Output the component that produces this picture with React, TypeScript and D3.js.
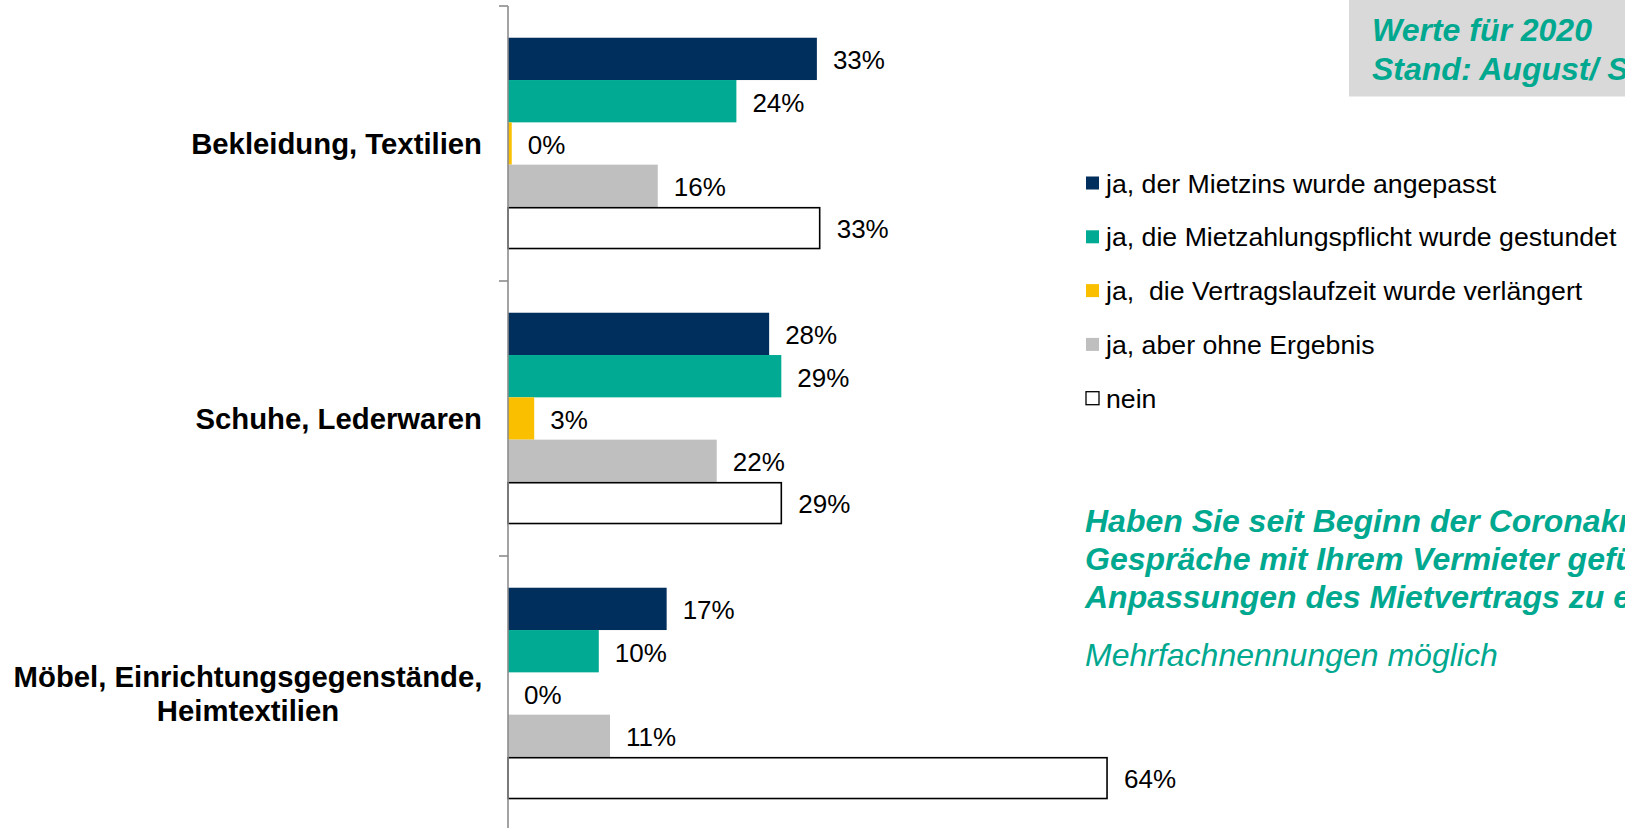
import React from "react";
import * as d3 from "d3";

const categories = [
  "Bekleidung, Textilien",
  "Schuhe, Lederwaren",
  "Möbel, Einrichtungsgegenstände,|Heimtextilien",
];

const seriesNames = [
  "ja, der Mietzins wurde angepasst",
  "ja, die Mietzahlungspflicht wurde gestundet",
  "ja,  die Vertragslaufzeit wurde verlängert",
  "ja, aber ohne Ergebnis",
  "nein",
];

const mietzinsAngepasst = [33.0, 27.9, 16.95];
const gestundet = [24.4, 29.2, 9.7];
const verlaengert = [0.4, 2.8, 0];
const ohneErgebnis = [16.0, 22.3, 10.9];
const nein = [33.3, 29.2, 64.0];

const seriesValues = [mietzinsAngepasst, gestundet, verlaengert, ohneErgebnis, nein];
const seriesColors = ["#002E5D", "#00AA93", "#FAC000", "#BFBFBF", "#FFFFFF"];

const boxLines = ["Werte für 2020", "Stand: August/ September 2020"];
const questionLines = [
  "Haben Sie seit Beginn der Coronakrise",
  "Gespräche mit Ihrem Vermieter geführt, um",
  "Anpassungen des Mietvertrags zu erreichen?",
];
const noteText = "Mehrfachnennungen möglich";

const W = 1625;
const H = 828;
const FONT = "'Liberation Sans', Arial, Helvetica, sans-serif";
const TEAL = "#00A88F";

export default function App() {
  const x = d3.scaleLinear().domain([0, 100]).range([508, 1444]);
  const yCat = d3.scaleBand<string>().domain(categories).range([6, 831]).padding(0);
  const ySer = d3
    .scaleBand<number>()
    .domain(d3.range(seriesNames.length))
    .range([0, yCat.bandwidth()])
    .paddingInner(0)
    .paddingOuter(0.75);

  const fmt = (v: number) => `${Math.round(v)}%`;

  return (
    <svg
      width={W}
      height={H}
      style={{ position: "absolute", left: 0, top: 0, background: "#fff" }}
      fontFamily={FONT}
    >
      <rect x={0} y={0} width={W} height={H} fill="#fff" />

      {/* bars */}
      {categories.map((cat, ci) => (
        <g key={cat} transform={`translate(0,${yCat(cat)})`}>
          {seriesValues.map((vals, si) => {
            const v = vals[ci];
            const y0 = ySer(si)!;
            const bw = ySer.bandwidth();
            const isNein = si === 4;
            const xEnd = x(v);
            return (
              <g key={si}>
                {v > 0 && (
                  <rect
                    x={x(0)}
                    y={isNein ? y0 + 0.75 : y0}
                    width={xEnd - x(0)}
                    height={isNein ? bw - 1.5 : bw}
                    fill={seriesColors[si]}
                    stroke={isNein ? "#000" : "none"}
                    strokeWidth={isNein ? 1.6 : 0}
                  />
                )}
                <text
                  x={xEnd + (isNein ? 17 : 16)}
                  y={y0 + bw / 2 + 1}
                  dy="0.36em"
                  fontSize={26}
                  fill="#000"
                >
                  {fmt(v)}
                </text>
              </g>
            );
          })}
        </g>
      ))}

      {/* axis */}
      <line x1={x(0)} x2={x(0)} y1={yCat(categories[0])!} y2={H + 5} stroke="#8C8C8C" strokeWidth={1.6} />
      {[...categories.map((c) => yCat(c)!), yCat(categories[2])! + yCat.bandwidth()].map((ty, i) => (
        <line key={i} x1={x(0) - 9} x2={x(0)} y1={ty} y2={ty} stroke="#8C8C8C" strokeWidth={1.6} />
      ))}

      {/* category labels */}
      {categories.map((cat) => {
        const lines = cat.split("|");
        const cy = yCat(cat)! + yCat.bandwidth() / 2;
        if (lines.length === 1) {
          return (
            <text key={cat} x={482} y={cy} dy="0.36em" textAnchor="end" fontSize={29.3} fontWeight="bold" fill="#000">
              {lines[0]}
            </text>
          );
        }
        return (
          <g key={cat}>
            {lines.map((ln, li) => (
              <text
                key={li}
                x={248}
                y={cy + (li - (lines.length - 1) / 2) * 34.2}
                dy="0.36em"
                textAnchor="middle"
                fontSize={29.3}
                fontWeight="bold"
                fill="#000"
              >
                {ln}
              </text>
            ))}
          </g>
        );
      })}

      {/* legend */}
      {seriesNames.map((name, i) => {
        const cy = 183 + i * 53.8;
        return (
          <g key={name}>
            <rect
              x={1086}
              y={cy - 6.5}
              width={13}
              height={13}
              fill={seriesColors[i]}
              stroke={i === 4 ? "#000" : "none"}
              strokeWidth={i === 4 ? 1.3 : 0}
            />
            <text x={1106} y={cy} dy="0.36em" fontSize={26.7} fill="#000" style={{ whiteSpace: "pre" }}>
              {name}
            </text>
          </g>
        );
      })}

      {/* top-right box */}
      <rect x={1349} y={0} width={W - 1349} height={96.5} fill="#D9D9D9" />
      {boxLines.map((ln, i) => (
        <text key={i} x={1372} y={41 + i * 39.3} fontSize={32} fontWeight="bold" fontStyle="italic" fill={TEAL}>
          {ln}
        </text>
      ))}

      {/* question */}
      {questionLines.map((ln, i) => (
        <text key={i} x={1085} y={532 + i * 37.9} fontSize={32} fontWeight="bold" fontStyle="italic" fill={TEAL}>
          {ln}
        </text>
      ))}
      <text x={1085} y={666} fontSize={32} fontStyle="italic" fill={TEAL}>
        {noteText}
      </text>
    </svg>
  );
}
